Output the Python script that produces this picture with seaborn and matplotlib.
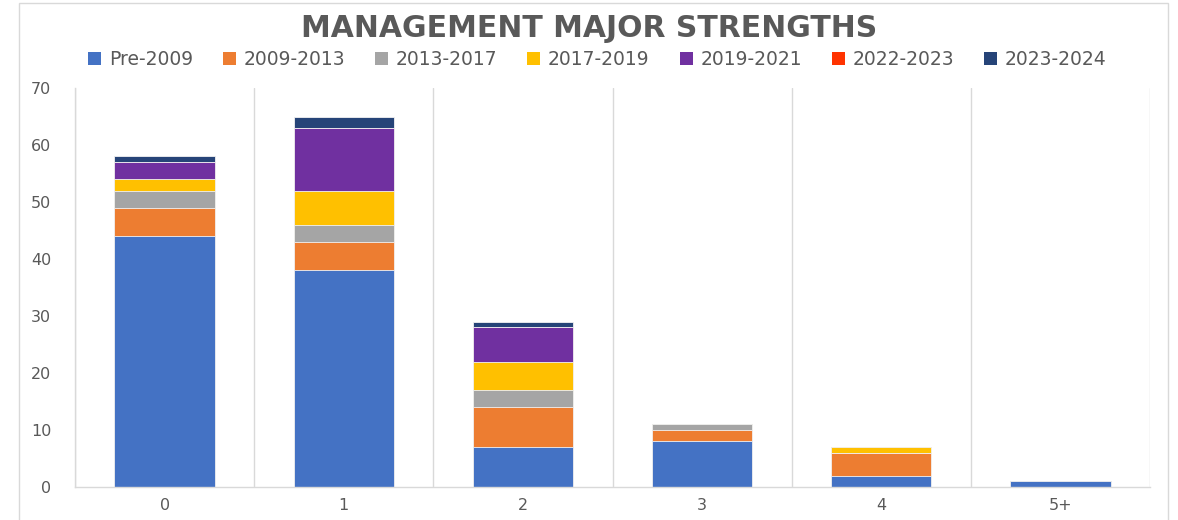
import seaborn as sns
import matplotlib.pyplot as plt
import pandas as pd
import numpy as np
from matplotlib.patches import Patch, Rectangle

# data
categories = ['0', '1', '2', '3', '4', '5+']
series = ['Pre-2009', '2009-2013', '2013-2017', '2017-2019', '2019-2021', '2022-2023', '2023-2024']
pre_2009 = [44, 38, 7, 8, 2, 1]
y2009_2013 = [5, 5, 7, 2, 4, 0]
y2013_2017 = [3, 3, 3, 1, 0, 0]
y2017_2019 = [2, 6, 5, 0, 1, 0]
y2019_2021 = [3, 11, 6, 0, 0, 0]
y2022_2023 = [0, 0, 0, 0, 0, 0]
y2023_2024 = [1, 2, 1, 0, 0, 0]
colors = ['#4472C4', '#ED7D31', '#A5A5A5', '#FFC000', '#7030A0', '#FF3300', '#264478']

values = [pre_2009, y2009_2013, y2013_2017, y2017_2019, y2019_2021, y2022_2023, y2023_2024]
rows = []
for s, v in zip(series, values):
    for c, n in zip(categories, v):
        rows.append({'category': c, 'series': s, 'count': n})
df = pd.DataFrame(rows)
df['cum'] = df.groupby('category')['count'].cumsum()

sns.set_style('white')
plt.rcParams['font.family'] = ['DejaVu Sans']

fig = plt.figure(figsize=(11.78, 5.2), dpi=100)
ax = fig.add_axes([75 / 1178, 33 / 520, (1150 - 75) / 1178, (487 - 88) / 520])

# stacked bars: draw cumulative totals from the top series down
for s, c in reversed(list(zip(series, colors))):
    sub = df[df['series'] == s]
    sns.barplot(data=sub, x='category', y='cum', order=categories, color=c,
                width=0.56, errorbar=None, edgecolor='#f2f2f2', linewidth=0.6,
                saturation=1, ax=ax)

ax.set_xlim(-0.5, len(categories) - 0.5)
ax.set_ylim(0, 70)
ax.set_yticks(np.arange(0, 71, 10))
ax.set_xlabel('')
ax.set_ylabel('')

# category separators
ax.set_xticks(np.arange(-0.5, len(categories), 1), minor=True)
ax.grid(True, which='minor', axis='x', color='#D9D9D9', linewidth=1)
ax.grid(False, which='major')
ax.tick_params(axis='x', which='both', length=0, labelsize=11.5, labelcolor='#595959', pad=8)
ax.tick_params(axis='y', length=7, color='#D9D9D9', labelsize=11.5, labelcolor='#595959', pad=10)
for side in ['top', 'right']:
    ax.spines[side].set_visible(False)
for side in ['left', 'bottom']:
    ax.spines[side].set_color('#D9D9D9')
    ax.spines[side].set_linewidth(1)

fig.text(0.5, 0.946, 'MANAGEMENT MAJOR STRENGTHS', ha='center', va='center',
         fontsize=21.5, fontweight='bold', color='#595959')

handles = [Patch(facecolor=c, edgecolor='none') for c in colors]
fig.legend(handles, series, loc='center', bbox_to_anchor=(0.507, 0.885), ncol=7,
           frameon=False, fontsize=13.5, labelcolor='#595959', handlelength=0.7,
           handleheight=0.7, handletextpad=0.4, columnspacing=1.6)

# outer chart border
fig.add_artist(Rectangle((19 / 1178, -0.05), (1168 - 19) / 1178, 1.05 - 3 / 520,
                         transform=fig.transFigure, fill=False, edgecolor='#D9D9D9', linewidth=1))

fig.savefig('out.png', dpi=100)
